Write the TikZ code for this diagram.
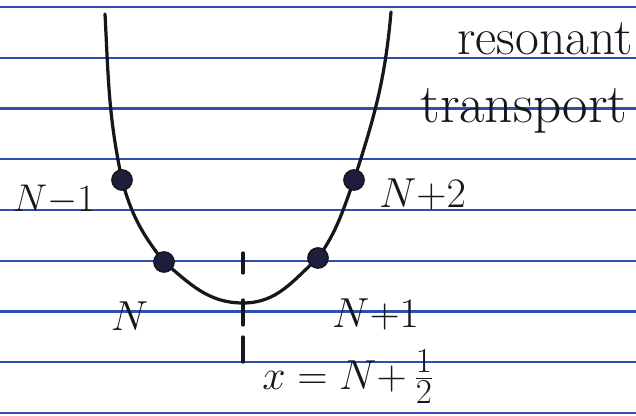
\documentclass[tikz,border=0pt]{standalone}
\usepackage{xcolor}
\usepackage{tikz}
\usetikzlibrary{positioning}
\definecolor{ruleblue}{HTML}{2D4FB0}
\definecolor{inkblack}{HTML}{16161E}
\definecolor{dotnavy}{HTML}{1E1E3C}
\tikzset{
  rule line/.style  = {ruleblue, line width=1.6pt},
  pen/.style        = {inkblack, line width=2.3pt, line cap=round},
  site dot/.style   = {circle, draw=inkblack, fill=dotnavy, line width=1pt,
                       inner sep=0pt, minimum size=0.5cm},
  site label/.style = {inkblack, inner sep=0pt, font=\Huge, scale=1.2, transform shape},
  note text/.style  = {inkblack, inner sep=0pt, font=\Huge, transform shape},
}

\begin{document}
\begin{tikzpicture}[x=0.025cm, y=0.025cm]
  \useasboundingbox (0,0) rectangle (636,415);
  \fill[white] (0,0) rectangle (636,415);
  % lined paper
  \foreach \i in {0,...,8}
    \draw[rule line] (0,{2+50.75*\i}) -- (636,{2+50.75*\i});
  % the well
  \coordinate (top left) at (105,401);
  \coordinate (bottom) at (243,112);
  \coordinate (top right) at (391,403);
  \node[site dot] (nm1) at (122,235) {};
  \node[site dot] (n0)  at (164,153) {};
  \node[site dot] (np1) at (318,157) {};
  \node[site dot] (np2) at (354,235) {};
  \draw[pen] (top left) to[out=-87,in=102] (nm1.center)
    to[out=-75,in=128] (n0.center)
    to[out=-40,in=180] (bottom)
    to[out=0,in=-138] (np1.center)
    to[out=55,in=-110] (np2.center)
    to[out=72,in=-95] (top right);
  \foreach \d in {nm1,n0,np1,np2}
    \node[site dot] at (\d) {};
  % midpoint ticks
  \foreach \ya/\yb in {162/142, 115/90, 78/53}
    \draw[pen] (243,\ya) -- (243,\yb);
  % labels
  \node[site label, scale=0.92, left=0.4cm of nm1, yshift=-0.45cm] (lm1) {$N{-}1$};
  \node[site label, below=0.72cm of n0, xshift=-0.72cm] (l0) {$N$};
  \node[site label, below=0.75cm of np1, xshift=1.2cm] (lp1) {$N{+}1$};
  \node[site label, right=0.35cm of np2, yshift=-0.3cm] (lp2) {$N{+}2$};
  \node[site label, anchor=base west] (mid) at (262,26) {$x=N{+}\,\frac{1}{2}$};
  \node[note text, scale=1.48, anchor=base west] (res) at (457,360) {resonant};
  \node[note text, scale=1.58, anchor=base west] (trans) at (420,292) {transport};
\end{tikzpicture}
\end{document}
